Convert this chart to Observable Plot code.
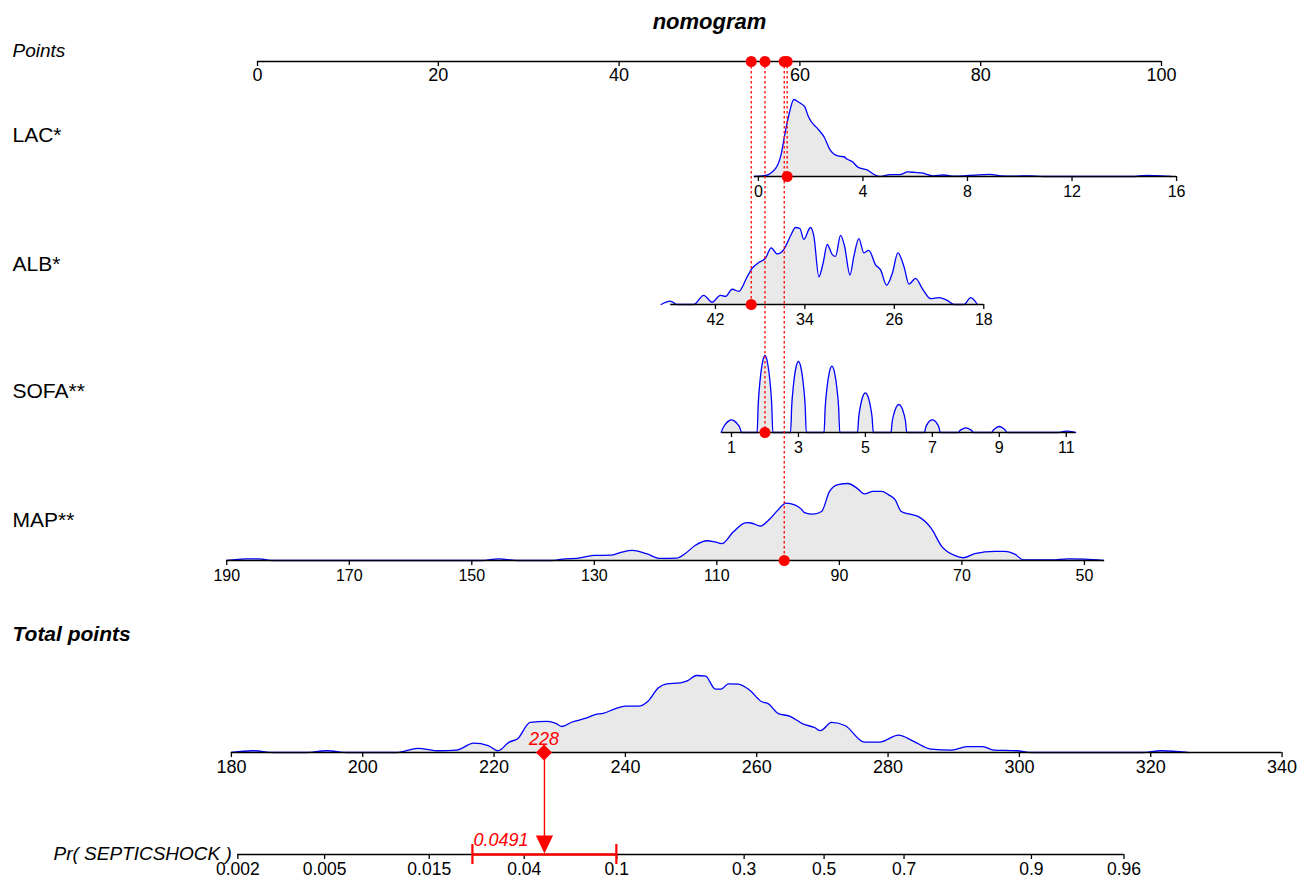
<!DOCTYPE html>
<html><head><meta charset="utf-8">
<script src="https://cdn.jsdelivr.net/npm/d3@7"></script>
<script src="https://cdn.jsdelivr.net/npm/@observablehq/plot@0.6"></script>
<style>body{margin:0;background:#fff;}</style>
</head><body>
<script>
// ---------------- DATA ----------------
const pointsTicks = [0, 20, 40, 60, 80, 100];
const lacTicks = [0, 4, 8, 12, 16];
const albTicks = [42, 34, 26, 18];
const sofaTicks = [1, 3, 5, 7, 9, 11];
const mapTicks = [190, 170, 150, 130, 110, 90, 70, 50];
const totalTicks = [180, 200, 220, 240, 260, 280, 300, 320, 340];
const probTicks = [0.002, 0.005, 0.015, 0.04, 0.1, 0.3, 0.5, 0.7, 0.9, 0.96];
const probTickLabels = ["0.002", "0.005", "0.015", "0.04", "0.1", "0.3", "0.5", "0.7", "0.9", "0.96"];

// nomogram scoring: points = intercept + slope * value
const lacScore = [55.41, 2.891];
const albScore = [102.60, -1.2367];
const sofaScore = [48.73, 3.703];
const mapScore = [125.36, -0.6777];
// total points shown against the points ruler: position = intercept + slope * total
const totalOnPoints = [-133.64, 0.7264];
// model: total points = intercept + slope * logit(p)
const probModel = [270.26, 14.37];

// axis extents (variable value ranges)
const lacRange = [-0.15, 16];
const albRange = [46, 18];
const sofaRange = [0.72, 11.28];
const mapRange = [190, 46.7];
const totalRange = [180, 340];
const probRange = [0.002, 0.96];

// observation
const obsLAC = 1.1, obsALB = 38.8, obsSOFA = 2, obsMAP = 99;
const predProb = 0.0491;
const predCI = [0.0235, 0.0996];

// densities: [value, relative density]
const lacDensity = [[-0.16,0],[0.27,1],[0.68,8.7],[0.88,23],[1.02,43],[1.15,59],[1.36,76],[1.5,74],[1.62,72],[1.77,69],[1.9,60],[2.0,55],[2.25,47.7],[2.52,38.7],[2.75,26],[2.9,22],[3.1,20],[3.27,19.5],[3.4,17],[3.6,14.5],[3.82,9],[4.16,6.5],[4.43,2],[4.63,0],[5.04,1.8],[5.4,1.8],[5.72,4.5],[6.0,4],[6.26,3.5],[6.68,0.7],[7.09,1.5],[7.49,0.3],[8.04,1],[8.86,2],[9.27,0.7],[9.8,0.3],[10.35,0.7],[10.9,0],[14.3,0],[14.85,1],[15.4,0.7],[15.8,0]];

const albDensity = [[46.86,0],[46.03,3.3],[45.43,0],[43.94,0],[43.05,9],[42.3,2.3],[41.55,9],[41.1,8],[40.5,15],[39.91,13],[39.16,27.3],[38.71,35.7],[38.12,41.3],[37.52,45.7],[37.01,55.7],[36.48,49.7],[35.89,54],[35.29,67.3],[34.84,75.7],[34.45,74.7],[34.1,64],[33.5,75.7],[33.2,67.3],[32.75,27.3],[32.37,40.7],[32.0,59],[31.55,49],[31.26,47.3],[30.81,68],[30.45,57.3],[29.97,29],[29.62,47.3],[29.17,64.7],[28.72,50.7],[28.28,53.3],[27.68,39],[27.23,34],[26.69,19],[26.18,30.7],[25.68,50.7],[25.14,37.3],[24.69,20],[24.1,25.7],[23.5,15.7],[22.75,5.7],[22.0,6.7],[21.26,4],[20.67,0],[19.77,0],[19.17,6.7],[18.57,0]];

const sofaDensity = [[0.69,0],[0.75,4.8],[0.82,8.4],[0.91,11.4],[1,12.7],[1.09,11.4],[1.18,8.4],[1.25,4.8],[1.3,0],
[1.765,0],[1.8,29],[1.85,51],[1.92,69],[2,77],[2.08,69],[2.15,51],[2.2,29],[2.235,0],
[2.765,0],[2.8,27],[2.85,47],[2.92,64],[3,71],[3.08,64],[3.15,47],[3.2,27],[3.235,0],
[3.765,0],[3.8,25.2],[3.85,43.8],[3.92,59.7],[4,66.3],[4.08,59.7],[4.15,43.8],[4.2,25.2],[4.235,0],
[4.765,0],[4.8,15.1],[4.85,26.2],[4.92,35.7],[5,39.7],[5.08,35.7],[5.15,26.2],[5.2,15.1],[5.235,0],
[5.765,0],[5.8,10.6],[5.85,18.5],[5.92,25.2],[6,28],[6.08,25.2],[6.15,18.5],[6.2,10.6],[6.235,0],
[6.765,0],[6.8,4.8],[6.85,8.4],[6.92,11.4],[7,12.7],[7.08,11.4],[7.15,8.4],[7.2,4.8],[7.235,0],
[7.77,0],[7.82,1.8],[7.88,3.1],[7.94,4.2],[8,4.7],[8.06,4.2],[8.12,3.1],[8.18,1.8],[8.23,0],
[8.77,0],[8.82,2.3],[8.88,4.0],[8.94,5.4],[9,6],[9.06,5.4],[9.12,4.0],[9.18,2.3],[9.23,0],
[10.75,0],[11,1.3],[11.28,0]];

const mapDensity = [[190,0],[186.8,1.7],[184.8,1.7],[182.5,0],[148.4,0],[145.6,1.7],[142.7,0],[137,0],[134.7,1.7],[132.9,2],[130.1,5],[127.2,5.3],[125.5,8.3],[123.8,10],[121.5,6.7],[119.2,2],[116.6,2.3],[115.2,6.7],[113.5,15],[111.6,19.5],[110.3,18.3],[109.2,16.7],[107.3,28.3],[105.2,37.3],[104.4,37],[102.9,34],[101.4,40.7],[100,50],[98.7,56.7],[97.3,55],[96.2,50.7],[95.7,47.3],[94.3,45.7],[92.9,48.3],[91.6,68.3],[90.2,75],[88.6,76],[87.2,71.7],[85.9,65.7],[84.5,68.3],[83.1,68.3],[82,65],[80.9,60],[79.9,48.3],[78.5,45.7],[77.1,43.3],[75,31.7],[73.3,14],[71.2,5],[69.8,2.7],[67.9,6.7],[64.6,9],[63,9],[61.3,6],[60,0.7],[55.3,0.7],[52.6,1.7],[49.9,1.3],[46.9,0]];

const totalDensity = [[180,0],[183.3,1.7],[186.5,0],[191.3,0],[194.5,1.7],[197.7,0],[205.2,0],[208.4,4],[211.6,1.7],[214.3,2.3],[216.9,9],[219.1,6.7],[220.6,1.7],[222.3,10],[223.6,13.3],[225.5,29],[228.1,30],[229.4,28],[230.3,25],[231.9,29.3],[234,33],[235.4,36.5],[236.6,37.5],[238.6,42.5],[240,44.5],[242,44.5],[243.4,49],[245,62],[246.3,66],[248.4,67],[249.5,69],[250.8,74],[252.2,73.3],[253.7,61],[254.6,61],[255.7,66],[257.2,65.7],[258.9,60],[260.7,49],[261.8,46.7],[263.3,37.3],[265,35],[267.1,27.3],[268.8,24],[269.7,21],[271.4,29],[273.5,25.7],[276.4,10],[278.7,10],[281.6,16.7],[283.9,10.7],[286.5,3.3],[289.7,2.3],[292,5.7],[294.4,5.7],[296.1,2.3],[299.6,1.7],[301.9,0],[318.7,0],[321.6,1.7],[325.7,0]];

// ---------------- LAYOUT ----------------
const ROW = {points: 61, lac: 176, alb: 304, sofa: 432, map: 560, total: 752, prob: 854};
const DENS_H = 77;
const RED = "#ff0000", BLUE = "#0000ff", FILL = "#e9e9e9";

const lin = ([a, b]) => v => a + b * v;
const lacP = lin(lacScore), albP = lin(albScore), sofaP = lin(sofaScore), mapP = lin(mapScore);
const totalX = lin(totalOnPoints);
const logit = p => Math.log(p / (1 - p));
const probX = p => totalX(probModel[0] + probModel[1] * logit(p));
const identity = v => v;

function densityMarks(data, pos, base) {
  const maxD = d3.max(data, d => d[1]);
  const rows = data.map(([v, d]) => ({x: pos(v), y1: base, y2: base - d / maxD * DENS_H}));
  return [
    Plot.areaY(rows, {x: "x", y1: "y1", y2: "y2", fill: FILL, curve: "monotone-x"}),
    Plot.lineY(rows, {x: "x", y: "y2", stroke: BLUE, strokeWidth: 1.3, curve: "monotone-x"})
  ];
}

function axisMarks(ticks, labels, pos, range, base, fontSize, off) {
  return [
    Plot.ruleY([{y: base, x1: pos(range[0]), x2: pos(range[1])}], {y: "y", x1: "x1", x2: "x2", stroke: "black", strokeWidth: 1.5}),
    Plot.ruleX(ticks, {x: t => pos(t), y1: () => base, y2: () => base + 5, stroke: "black", strokeWidth: 1.3}),
    Plot.text(ticks, {x: t => pos(t), y: () => base + off, text: (t, i) => labels[i], lineAnchor: "top", fontSize, fill: "black"})
  ];
}

const vars = [
  {label: "LAC*", ticks: lacTicks, pos: lacP, range: lacRange, dens: lacDensity, base: ROW.lac, value: obsLAC, ly: 127},
  {label: "ALB*", ticks: albTicks, pos: albP, range: albRange, dens: albDensity, base: ROW.alb, value: obsALB, ly: 256},
  {label: "SOFA**", ticks: sofaTicks, pos: sofaP, range: sofaRange, dens: sofaDensity, base: ROW.sofa, value: obsSOFA, ly: 383},
  {label: "MAP**", ticks: mapTicks, pos: mapP, range: mapRange, dens: mapDensity, base: ROW.map, value: obsMAP, ly: 512}
];

const totalObs = d3.sum(vars, v => v.pos(v.value));
const marks = [];

// densities
for (const v of vars) marks.push(...densityMarks(v.dens, v.pos, v.base));
marks.push(...densityMarks(totalDensity, totalX, ROW.total));

// axes
marks.push(...axisMarks(pointsTicks, pointsTicks.map(String), identity, [0, 100], ROW.points, 18, 7));
for (const v of vars) marks.push(...axisMarks(v.ticks, v.ticks.map(String), v.pos, v.range, v.base, 16, 9));
marks.push(...axisMarks(totalTicks, totalTicks.map(String), totalX, totalRange, ROW.total, 18, 8));
marks.push(...axisMarks(probTicks, probTickLabels, probX, probRange, ROW.prob, 17.5, 8));

// labels
const labelFont = 21;
marks.push(Plot.text(["nomogram"], {x: () => 50, y: () => 13, text: d => d, lineAnchor: "top", fontSize: 22, fontWeight: "bold", fontStyle: "italic"}));
marks.push(Plot.text(["Points"], {frameAnchor: "left", dx: 12, y: () => 43, text: d => d, lineAnchor: "top", textAnchor: "start", fontSize: 19, fontStyle: "italic"}));
marks.push(Plot.text(vars, {frameAnchor: "left", dx: 12, y: "ly", text: "label", lineAnchor: "top", textAnchor: "start", fontSize: labelFont}));
marks.push(Plot.text(["Total points"], {frameAnchor: "left", dx: 12, y: () => 626, text: d => d, lineAnchor: "top", textAnchor: "start", fontSize: labelFont, fontWeight: "bold", fontStyle: "italic"}));
marks.push(Plot.text(["Pr( SEPTICSHOCK )"], {x: () => probX(probRange[0]), dx: -6, y: () => 846, text: d => d, lineAnchor: "top", textAnchor: "end", fontSize: 19, fontStyle: "italic"}));

// observation: dotted lines and dots
marks.push(Plot.ruleX(vars, {x: v => v.pos(v.value), y1: () => ROW.points, y2: "base", stroke: RED, strokeWidth: 1.3, strokeDasharray: "2.5,2.5"}));
marks.push(Plot.dot(vars, {x: v => v.pos(v.value), y: "base", r: 5.5, fill: RED}));
marks.push(Plot.dot(vars, {x: v => v.pos(v.value), y: () => ROW.points, r: 5.5, fill: RED}));

// total & probability indicator
const diamond = {draw(ctx, size) { const s = Math.sqrt(size / Math.PI); ctx.moveTo(0, -s); ctx.lineTo(s, 0); ctx.lineTo(0, s); ctx.lineTo(-s, 0); ctx.closePath(); }};
const arrowDown = {draw(ctx, size) { const s = Math.sqrt(size / Math.PI); ctx.moveTo(0, 0); ctx.lineTo(s, -2.1 * s); ctx.lineTo(-s, -2.1 * s); ctx.closePath(); }};
const predX = probX(predProb);
marks.push(Plot.ruleX([predX], {x: d => d, y1: () => ROW.total, y2: () => ROW.prob - 16, stroke: RED, strokeWidth: 1.4}));
marks.push(Plot.ruleY([predCI], {y: () => ROW.prob, x1: d => probX(d[0]), x2: d => probX(d[1]), stroke: RED, strokeWidth: 2.6}));
marks.push(Plot.ruleX(predCI, {x: d => probX(d), y1: () => ROW.prob - 10, y2: () => ROW.prob + 10, stroke: RED, strokeWidth: 2.2}));
marks.push(Plot.dot([predX], {x: d => d, y: () => ROW.prob - 1, r: 8.6, symbol: arrowDown, fill: RED, stroke: "none"}));
marks.push(Plot.dot([totalObs], {x: d => totalX(d), y: () => ROW.total, r: 8, symbol: diamond, fill: RED, stroke: "none"}));
marks.push(Plot.text([totalObs], {x: d => totalX(d), y: () => 732, text: d => String(Math.round(d)), lineAnchor: "top", fontSize: 18, fontStyle: "italic", fill: RED}));
marks.push(Plot.text([predProb], {x: () => probX(predCI[0]), dx: 1, y: () => 833, text: d => String(d), lineAnchor: "top", textAnchor: "start", fontSize: 18, fontStyle: "italic", fill: RED}));

const chart = Plot.plot({
  width: 1298,
  height: 880,
  margin: 0,
  x: {domain: [0, 100], range: [257, 1161], axis: null},
  y: {domain: [0, 880], range: [0, 880], axis: null},
  style: {fontFamily: "'Liberation Sans', Arial, Helvetica, sans-serif", background: "white", color: "black"},
  marks
});
document.body.appendChild(chart);
</script>
</body></html>
